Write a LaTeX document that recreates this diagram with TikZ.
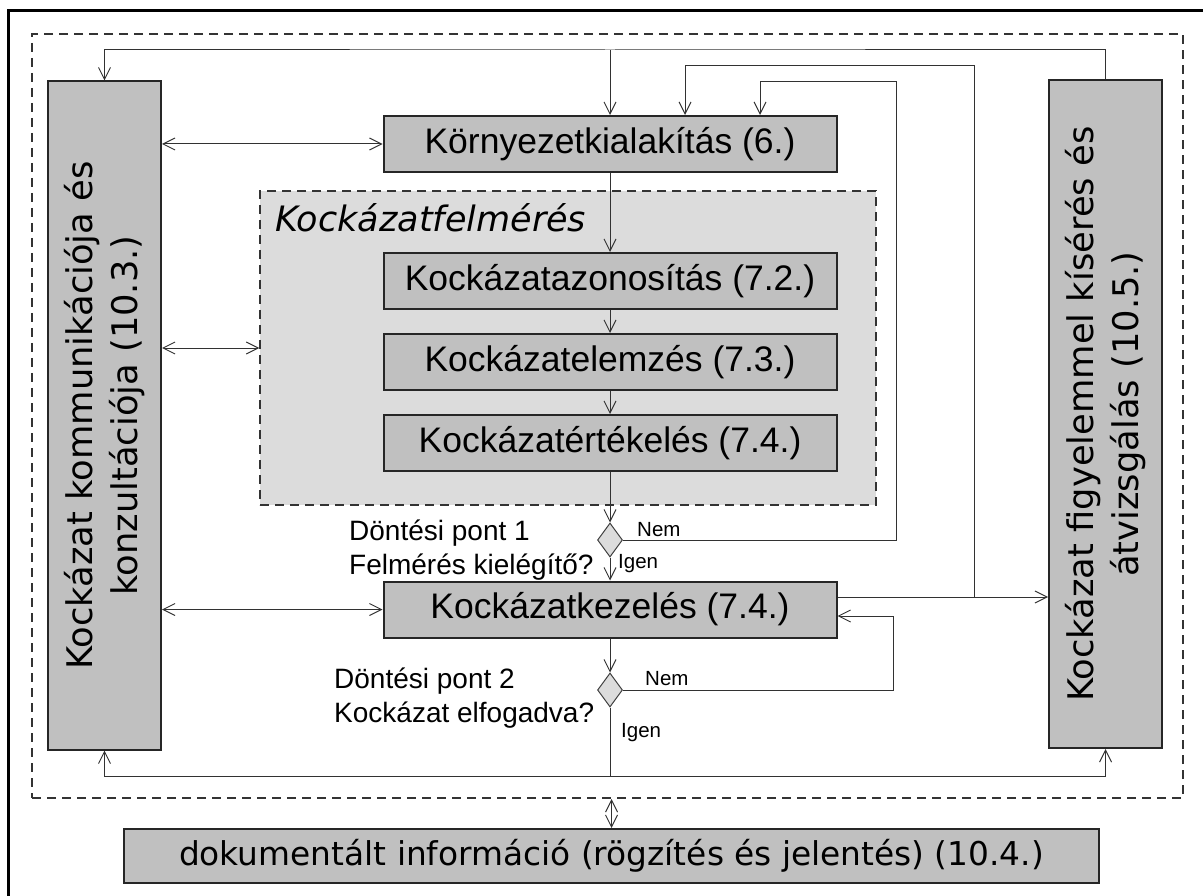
\documentclass[tikz,border=0pt]{standalone}
\usepackage{fontspec}
\setmainfont{Liberation Sans}
\newfontfamily\dejavu{DejaVu Sans}
\usetikzlibrary{arrows.meta,shapes.geometric}
\definecolor{boxgray}{RGB}{192,192,192}
\definecolor{lightfill}{RGB}{220,220,220}
\definecolor{linegray}{RGB}{50,50,50}

\begin{document}
\begin{tikzpicture}[x=1pt,y=-1pt]
\tikzstyle{box}=[draw=black!85,line width=2pt,fill=boxgray,inner sep=0pt,minimum width=453pt,minimum height=56pt,font=\fontsize{35.5}{40}\selectfont]
\tikzstyle{sidebox}=[draw=black!85,line width=2pt,fill=boxgray,inner sep=0pt,rotate=90,align=center,minimum width=668pt,minimum height=113pt,font=\dejavu\fontsize{35.3}{45}\selectfont]
\tikzstyle{decision}=[diamond,draw=black!75,line width=1pt,fill=lightfill,inner sep=0pt,minimum width=25pt,minimum height=34pt]
\tikzstyle{question}=[font=\fontsize{28}{34}\selectfont,align=left,inner sep=0pt]
\tikzstyle{yesno}=[font=\fontsize{20.5}{24}\selectfont,inner sep=0pt]
\tikzstyle{conn}=[line width=1pt,draw=linegray,-{Straight Barb[length=12pt,width=12pt]}]
\tikzstyle{biconn}=[line width=1pt,draw=linegray,{Straight Barb[length=12pt,width=12pt]}-{Straight Barb[length=12pt,width=12pt]}]
\useasboundingbox (0,0) rectangle (1203,896);
\draw[line width=3pt] (8,896) -- (8,11) -- (1203,11);
% keretek
\node[draw=black!80,line width=2pt,dash pattern=on 9pt off 6pt,minimum width=1151pt,minimum height=764pt,inner sep=0pt] (keret) at (607.5,416) {};
\node[draw=black!80,line width=1.5pt,dash pattern=on 9pt off 6pt,fill=lightfill,minimum width=616pt,minimum height=314pt,inner sep=0pt] (felm) at (568,348) {};
\node[anchor=base west,inner sep=0pt,font=\dejavu\itshape\fontsize{35}{40}\selectfont] (felmcim) at (275,232) {Kockázatfelmérés};
% dobozok
\node[box] (env) at (610,144) {Környezetkialakítás (6.)};
\node[box] (azon) at (610,281) {Kockázatazonosítás (7.2.)};
\node[box] (elem) at (610,362) {Kockázatelemzés (7.3.)};
\node[box] (ert) at (610,443) {Kockázatértékelés (7.4.)};
\node[decision] (d1) at (610,540) {};
\node[box] (kez) at (610,609.5) {Kockázatkezelés (7.4.)};
\node[decision] (d2) at (610,690) {};
% forgatott dobozok: east = felso, west = also, south = jobb oldal
\node[sidebox] (komm) at (104.5,415.5) {Kockázat kommunikációja és\\konzultációja (10.3.)};
\node[sidebox] (figy) at (1105.5,414) {Kockázat figyelemmel kísérés és\\átvizsgálás (10.5.)};
\node[box,font=\dejavu\fontsize{32.8}{38}\selectfont,minimum width=975pt,minimum height=54pt] (dok) at (611.5,856) {dokumentált információ (rögzítés és jelentés) (10.4.)};
% feliratok
\node[question,anchor=base west] (q1) at (349,574) {Döntési pont 1\\Felmérés kielégítő?};
\node[question,anchor=base west] (q2) at (334,722) {Döntési pont 2\\Kockázat elfogadva?};
\node[yesno,anchor=west] (nem1) at (637,530) {Nem};
\node[yesno,anchor=west] (igen1) at (618,564) {Igen};
\node[yesno,anchor=west] (nem2) at (645,679) {Nem};
\node[yesno,anchor=west] (igen2) at (621,733) {Igen};
% segedpontok
\coordinate (felso) at (610,50);
\coordinate (j1) at (974,597);
\coordinate (c2r) at (974,66);
\coordinate (c2) at (685,66);
\coordinate (c3r) at (896,82);
\coordinate (c3) at (760,82);
\coordinate (c4) at (893,616);
\coordinate (also) at (610,776);
% nyilak
\draw[conn] (figy.east) |- (felso) -| (komm.east);
\draw[conn] (felso) -- (env.north);
\draw[conn] (kez.east |- j1) -- (figy.north |- j1);
\draw[conn] (j1) -- (c2r) -- (c2) -- (c2 |- env.north);
\draw[conn] (d1.east) -| (c3r) -- (c3) -- (c3 |- env.north);
\draw[conn] (env) -- (azon);
\draw[conn] (azon) -- (elem);
\draw[conn] (elem) -- (ert);
\draw[conn] (ert) -- (d1);
\draw[conn] (d1) -- (kez);
\draw[conn] (kez) -- (d2);
\draw[line width=1pt,draw=linegray] (d2.south) -- (also);
\draw[conn] (also) -| (komm.west);
\draw[conn] (also) -| (figy.west);
\draw[conn] (d2.east) -| (c4) -- (kez.east |- c4);
\draw[biconn] (komm.south |- env) -- (env.west);
\draw[biconn] (komm.south |- felm.west) -- (felm.west);
\draw[biconn] (komm.south |- kez.west) -- (kez.west);
\draw[biconn] (dok.north |- keret.south) -- (dok.north);
\end{tikzpicture}
\end{document}
